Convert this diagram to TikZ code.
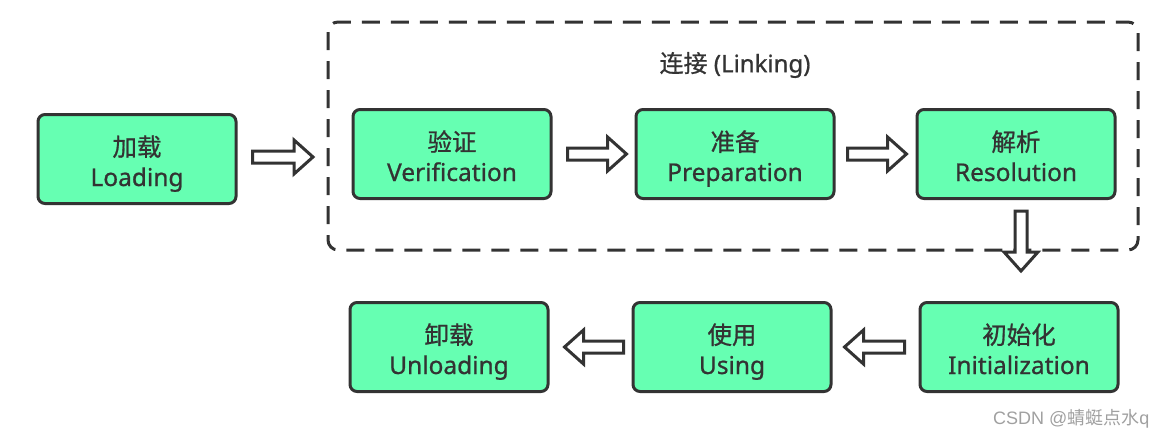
\documentclass[tikz,border=0pt]{standalone}
\usepackage{fontspec}
\setmainfont{Noto Sans}
\newfontfamily\medfont{Noto Sans}[FakeBold=0.8]
\newfontfamily\cjk{Noto Sans CJK SC}[FakeBold=0.8]
\newfontfamily\wmfont{Liberation Sans}
\newfontfamily\wmcjk{Noto Sans CJK SC}
\usetikzlibrary{calc}
\definecolor{boxfill}{RGB}{102,255,178}
\definecolor{ink}{RGB}{51,51,51}
\definecolor{wmgray}{RGB}{160,160,160}
\newcommand{\topline}{\rule{0pt}{30pt}}
\newcommand{\botline}{\rule[-6pt]{0pt}{6pt}}
\tikzset{
  stage/.style={draw=ink, line width=3pt, fill=boxfill, rounded corners=7pt,
    minimum width=198pt, minimum height=89pt, align=center, text=ink,
    font=\medfont\fontsize{24.5}{30}\selectfont, inner sep=0pt},
  blk/.style={draw=ink, line width=3pt, fill=white, line join=miter},
  arrR/.style={blk, to path={let \p1=(\tikztostart), \p2=(\tikztotarget) in
    (\x1,\y1+6pt) -- (\x2-19pt,\y1+6pt) -- (\x2-19pt,\y1+17pt) -- (\x2,\y1)
    -- (\x2-19pt,\y1-17pt) -- (\x2-19pt,\y1-6pt) -- (\x1,\y1-6pt) -- cycle}},
  arrL/.style={blk, to path={let \p1=(\tikztostart), \p2=(\tikztotarget) in
    (\x1,\y1+6pt) -- (\x2+19pt,\y1+6pt) -- (\x2+19pt,\y1+17pt) -- (\x2,\y1)
    -- (\x2+19pt,\y1-17pt) -- (\x2+19pt,\y1-6pt) -- (\x1,\y1-6pt) -- cycle}},
  arrD/.style={blk, to path={let \p1=(\tikztostart), \p2=(\tikztotarget) in
    (\x1-6pt,\y1) -- (\x1-6pt,\y2+19pt) -- (\x1-17pt,\y2+19pt) -- (\x1,\y2)
    -- (\x1+17pt,\y2+19pt) -- (\x1+6pt,\y2+19pt) -- (\x1+6pt,\y1) -- cycle}},
  groupbox/.style={draw=ink, line width=3pt, dash pattern=on 18pt off 11pt, rounded corners=10pt},
}
\begin{document}
\begin{tikzpicture}[x=1pt,y=-1pt]
\useasboundingbox (0,0) rectangle (1165,439);
% group
\draw[groupbox] (328,22) rectangle (1138,250);
\node[text=ink, font=\medfont\fontsize{24}{27}\selectfont] (lk) at (735,65) {{\cjk 连接} (Linking)};
% stages
\node[stage] (load) at (137,159) {{\cjk 加载}\topline\\Loading\botline};
\node[stage] (ver) at (452,154) {{\cjk 验证}\topline\\Verification\botline};
\node[stage] (prep) at (735,154) {{\cjk 准备}\topline\\Preparation\botline};
\node[stage] (res) at (1016,154) {{\cjk 解析}\topline\\Resolution\botline};
\node[stage] (init) at (1019,347) {{\cjk 初始化}\topline\\Initialization\botline};
\node[stage] (use) at (732,347) {{\cjk 使用}\topline\\Using\botline};
\node[stage] (unl) at (449,347) {{\cjk 卸载}\topline\\Unloading\botline};
% arrow anchors
\coordinate (a1s) at ($(load.east)+(15,-2)$);
\coordinate (a1e) at (313,157);
\coordinate (a2s) at ($(ver.east)+(15,0)$);
\coordinate (a2e) at ($(prep.west)+(-8,0)$);
\coordinate (a3s) at ($(prep.east)+(12,0)$);
\coordinate (a3e) at ($(res.west)+(-9,0)$);
\coordinate (a4s) at (1021,211);
\coordinate (a4e) at (1021,271);
\coordinate (a5s) at ($(init.west)+(-14,0)$);
\coordinate (a5e) at ($(use.east)+(12,0)$);
\coordinate (a6s) at ($(use.west)+(-8,0)$);
\coordinate (a6e) at ($(unl.east)+(15,0)$);
\draw[arrR] (a1s) to (a1e);
\draw[arrR] (a2s) to (a2e);
\draw[arrR] (a3s) to (a3e);
\draw[arrD] (a4s) to (a4e);
\draw[arrL] (a5s) to (a5e);
\draw[arrL] (a6s) to (a6e);
% watermark
\node[text=wmgray, font=\wmfont\fontsize{18}{20}\selectfont, anchor=east] (wm) at (1153,419) {CSDN @{\wmcjk 蜻蜓点水}q};
\end{tikzpicture}
\end{document}
